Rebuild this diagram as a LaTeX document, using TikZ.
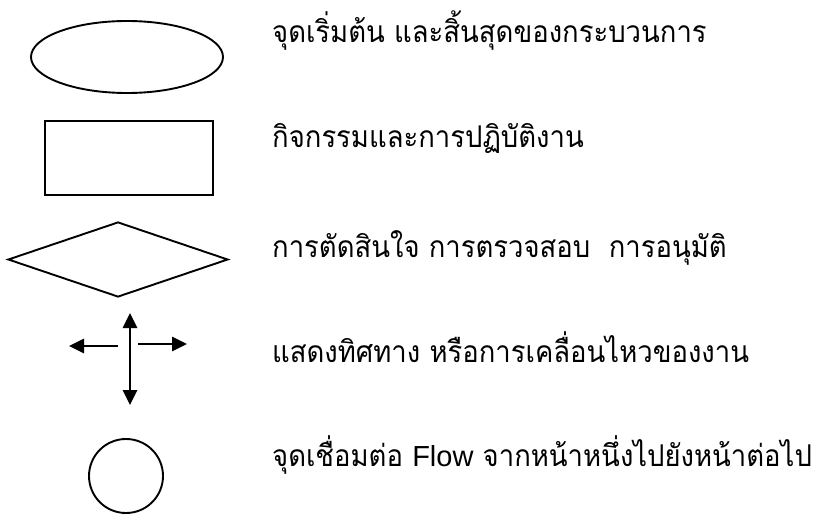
\documentclass[tikz,border=0pt]{standalone}
\usepackage{fontspec}
\newfontfamily\thaifont[Script=Thai,FakeStretch=0.915]{Loma}
\newfontfamily\latinfont{Liberation Sans}
\usetikzlibrary{arrows.meta,shapes.geometric}
\tikzset{
  shapeline/.style={draw=black,line width=1.9pt},
  lbl/.style={anchor=base west,inner sep=0pt,font=\thaifont\fontsize{30}{36}\selectfont},
  arr/.style={line width=2.6pt,-{Triangle[length=15pt,width=14pt]}}
}
\begin{document}
\begin{tikzpicture}[x=1pt,y=-1pt]
\useasboundingbox (0,0) rectangle (823,514);
\node[shapeline,ellipse,minimum width=192pt,minimum height=72pt,inner sep=0pt] (ell) at (127,57) {};
\node[shapeline,rectangle,minimum width=168pt,minimum height=74pt,inner sep=0pt] (box) at (129,158) {};
\node[shapeline,diamond,minimum width=220pt,minimum height=75pt,inner sep=0pt,aspect=2.93] (dia) at (118,259.5) {};
\node[shapeline,circle,minimum size=74pt,inner sep=0pt] (con) at (126,476) {};
\coordinate (vtop) at (130,313);
\coordinate (vbot) at (130,405);
\coordinate (vmid) at (130,359);
\coordinate (lst) at (118,346);
\coordinate (lend) at (69,346);
\coordinate (rst) at (138,344);
\coordinate (rend) at (187,344);
\draw[arr] (vmid) -- (vtop);
\draw[arr] (vmid) -- (vbot);
\draw[arr] (lst) -- (lend);
\draw[arr] (rst) -- (rend);
\node[lbl] (t1) at (272,42) {จุดเริ่มต้น และสิ้นสุดของกระบวนการ};
\node[lbl] (t2) at (272,147) {กิจกรรมและการปฏิบัติงาน};
\node[lbl] (t3) at (272,257) {การตัดสินใจ การตรวจสอบ \ การอนุมัติ};
\node[lbl] (t4) at (272,362) {แสดงทิศทาง หรือการเคลื่อนไหวของงาน};
\node[lbl] (t5) at (272,466) {จุดเชื่อมต่อ {\latinfont\fontsize{29}{34}\selectfont Flow} จากหน้าหนึ่งไปยังหน้าต่อไป};
\end{tikzpicture}
\end{document}
